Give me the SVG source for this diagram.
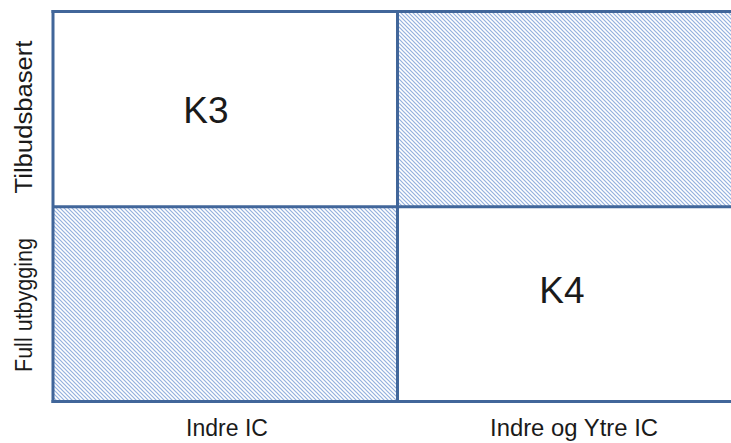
<svg xmlns="http://www.w3.org/2000/svg" width="731" height="443" viewBox="0 0 731 443">
  <style>
    .lbl { font-family: "Liberation Sans", Arial, sans-serif; fill: #1a1a1a; }
    .axis { font-size: 23px; text-anchor: middle; }
    .big { font-size: 37px; text-anchor: middle; }
    .grid { stroke: #41669a; stroke-width: 3; fill: none; }
  </style>
  <defs>
    <pattern id="hatch" width="4" height="4" patternUnits="userSpaceOnUse">
      <rect width="4" height="4" fill="#ffffff"/>
      <path d="M-1,-1 L5,5 M-1,3 L1,5 M3,-1 L5,1" stroke="#94b0de" stroke-width="1.2"/>
    </pattern>
  </defs>
  <rect width="731" height="443" fill="#ffffff"/>

  <g id="cell-k3">
    <rect x="53" y="12" width="345" height="195" fill="#ffffff"/>
    <text class="lbl big" x="206" y="123">K3</text>
  </g>
  <g id="cell-top-right">
    <rect x="398" y="12" width="333" height="195" fill="url(#hatch)"/>
  </g>
  <g id="cell-bottom-left">
    <rect x="53" y="207" width="345" height="195" fill="url(#hatch)"/>
  </g>
  <g id="cell-k4">
    <rect x="398" y="207" width="333" height="195" fill="#ffffff"/>
    <text class="lbl big" x="562" y="303">K4</text>
  </g>

  <g id="connectors">
    <line class="grid" x1="51.5" y1="11.5" x2="731" y2="11.5"/>
    <line class="grid" x1="53" y1="206.8" x2="731" y2="206.8"/>
    <line class="grid" x1="51.5" y1="401.5" x2="731" y2="401.5"/>
    <line class="grid" x1="53" y1="10" x2="53" y2="403"/>
    <line class="grid" x1="397.5" y1="10" x2="397.5" y2="403"/>
  </g>

  <g id="label-tilbudsbasert">
    <text class="lbl axis" transform="translate(32,117) rotate(-90)" x="0" y="0" textLength="153" lengthAdjust="spacingAndGlyphs">Tilbudsbasert</text>
  </g>
  <g id="label-full-utbygging">
    <text class="lbl axis" transform="translate(32,305) rotate(-90)" x="0" y="0" textLength="134" lengthAdjust="spacingAndGlyphs">Full utbygging</text>
  </g>
  <g id="label-indre-ic">
    <text class="lbl axis" x="227" y="436">Indre IC</text>
  </g>
  <g id="label-indre-og-ytre-ic">
    <text class="lbl axis" x="574" y="436" textLength="168" lengthAdjust="spacingAndGlyphs">Indre og Ytre IC</text>
  </g>
</svg>
